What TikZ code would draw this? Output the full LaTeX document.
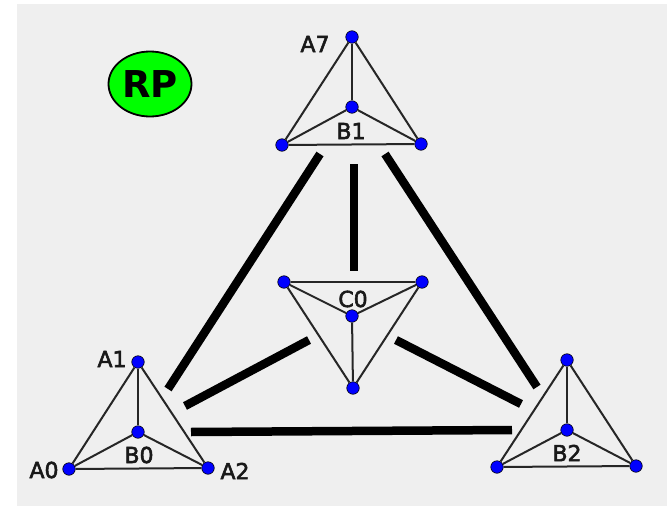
\documentclass[tikz,border=0pt]{standalone}
\usepackage{fontspec}
\setmainfont{DejaVu Sans}
\newfontfamily\cimkefont[FakeBold=2.5]{DejaVu Sans}
\usetikzlibrary{shapes.geometric}
\definecolor{hatter}{HTML}{EFEFEF}
\tikzset{
  csucs/.style={circle,draw=black,line width=0.6pt,fill=blue,inner sep=0pt,minimum size=12.5pt},
  el/.style={line width=2pt,black!85},
  vastag/.style={line width=8.5pt,black},
  cimke/.style={inner sep=0pt,text=black!90,font=\cimkefont\fontsize{22}{24}\selectfont},
  jel/.style={ellipse,draw=black,line width=1.8pt,fill=green,inner sep=0pt,minimum width=83pt,minimum height=65pt,
              font=\fontsize{37}{40}\selectfont\bfseries},
}
\begin{document}
\begin{tikzpicture}[x=1pt,y=-1pt]
  \useasboundingbox (0,0) rectangle (667,506);
  \fill[hatter] (17,4) rectangle (667,506);
  \node[jel] (rp) at (150,84) {RP};
  % 1. felso
  \node[csucs] (a7) at (352,37) {}; \node[csucs] (b1) at (352,107) {};
  \node[csucs] (t1) at (282,145) {}; \node[csucs] (t2) at (421,144) {};
  \draw[el] (a7) -- (b1); \draw[el] (a7) -- (t1); \draw[el] (a7) -- (t2);
  \draw[el] (b1) -- (t1); \draw[el] (b1) -- (t2); \draw[el] (t1) -- (t2);
  \node[cimke] (la7) at (315,44) {A7}; \node[cimke] (lb1) at (351,131) {B1};
  % 2. kozepso
  \node[csucs] (c1) at (284,282) {}; \node[csucs] (c2) at (422,282) {};
  \node[csucs] (c0) at (352,316) {}; \node[csucs] (c3) at (353,388) {};
  \draw[el] (c1) -- (c2); \draw[el] (c1) -- (c0); \draw[el] (c2) -- (c0);
  \draw[el] (c1) -- (c3); \draw[el] (c2) -- (c3); \draw[el] (c0) -- (c3);
  \node[cimke] (lc0) at (353,299) {C0};
  % 3. bal also
  \node[csucs] (a1) at (138,362) {}; \node[csucs] (b0) at (138,432) {};
  \node[csucs] (a0) at (69,469) {}; \node[csucs] (a2) at (208,468) {};
  \draw[el] (a1) -- (b0); \draw[el] (a1) -- (a0); \draw[el] (a1) -- (a2);
  \draw[el] (b0) -- (a0); \draw[el] (b0) -- (a2); \draw[el] (a0) -- (a2);
  \node[cimke] (la1) at (112,359) {A1}; \node[cimke] (la0) at (44,470) {A0};
  \node[cimke] (la2) at (235,471) {A2}; \node[cimke] (lb0) at (139,455) {B0};
  % 4. jobb also
  \node[csucs] (d1) at (567,360) {}; \node[csucs] (b2) at (567,430) {};
  \node[csucs] (d2) at (497,467) {}; \node[csucs] (d3) at (636,466) {};
  \draw[el] (d1) -- (b2); \draw[el] (d1) -- (d2); \draw[el] (d1) -- (d3);
  \draw[el] (b2) -- (d2); \draw[el] (b2) -- (d3); \draw[el] (d2) -- (d3);
  \node[cimke] (lb2) at (567,453) {B2};
  % 5. vastag vonalak
  \coordinate (p1) at (320,154); \coordinate (q1) at (168,389);
  \coordinate (p2) at (354,164); \coordinate (q2) at (354,271);
  \coordinate (p3) at (385,154); \coordinate (q3) at (537,387);
  \coordinate (p4) at (309,340); \coordinate (q4) at (185,406);
  \coordinate (p5) at (396,340); \coordinate (q5) at (521,404);
  \coordinate (p6) at (191,432); \coordinate (q6) at (512,430);
  \draw[vastag] (p1) -- (q1); \draw[vastag] (p2) -- (q2); \draw[vastag] (p3) -- (q3);
  \draw[vastag] (p4) -- (q4); \draw[vastag] (p5) -- (q5); \draw[vastag] (p6) -- (q6);
\end{tikzpicture}
\end{document}
